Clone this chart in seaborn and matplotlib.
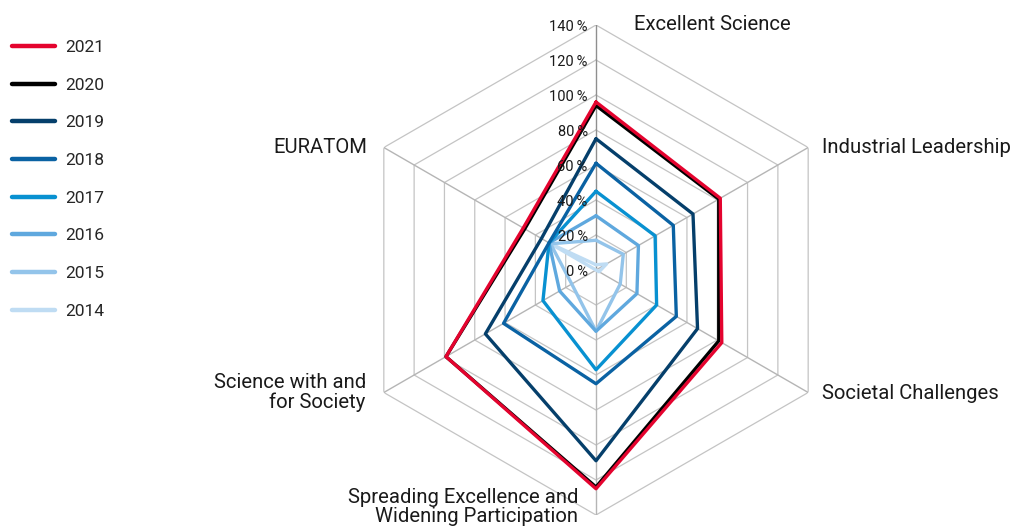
import numpy as np
import pandas as pd
import matplotlib
matplotlib.use('Agg')
import matplotlib.pyplot as plt
from matplotlib.lines import Line2D
import seaborn as sns

sns.set_style('white')
plt.rcParams['font.family'] = ['Roboto', 'DejaVu Sans']

# データ
categories = ['Excellent Science', 'Industrial Leadership', 'Societal Challenges',
              'Spreading Excellence and\nWidening Participation',
              'Science with and\nfor Society', 'EURATOM']
years = ['2014', '2015', '2016', '2017', '2018', '2019', '2020', '2021']
v2014 = [3, 7, 2, 0, 0, 30]
v2015 = [17, 18, 16, 35, 16, 30]
v2016 = [31, 28, 27, 35, 24, 31]
v2017 = [45, 39, 40, 57, 35, 31]
v2018 = [61, 51, 53, 65, 61, 31]
v2019 = [75, 64, 67, 109, 73, 36]
v2020 = [94, 81, 81, 124, 99, 47]
v2021 = [96, 82, 83, 125, 99, 48]
colors = ['#bfdcf3', '#93c4ea', '#5fa8de', '#0891d1', '#0a62a3', '#053f6b', '#000000', '#e4032e']
r_ticks = [0, 20, 40, 60, 80, 100, 120, 140]

series = [v2014, v2015, v2016, v2017, v2018, v2019, v2020, v2021]
angles = np.linspace(0, 2 * np.pi, len(categories), endpoint=False)

rows = []
for y, vals in zip(years, series):
    for a, v in zip(list(angles) + [2 * np.pi], vals + vals[:1]):
        rows.append({'year': y, 'angle': a, 'value': v})
df = pd.DataFrame(rows)

fig = plt.figure(figsize=(10.15, 5.27), dpi=100)
ax = fig.add_axes([351 / 1015, 12 / 527, 490 / 1015, 490 / 527], projection='polar')
ax.set_theta_offset(np.pi / 2)
ax.set_theta_direction(-1)
ax.set_ylim(0, 140)

# 六角形のグリッド
ax.yaxis.grid(False)
ax.xaxis.grid(False)
ax.spines['polar'].set_visible(False)
for lv in r_ticks[1:]:
    ax.plot(list(angles) + [2 * np.pi], [lv] * 7, color='#c4c4c4', lw=0.9, zorder=1)
for i, a in enumerate(angles):
    ax.plot([a, a], [0, 140], color='#8f8f8f' if i == 0 else '#b5b5b5', lw=1.0, zorder=1)

sns.lineplot(data=df, x='angle', y='value', hue='year', hue_order=years,
             palette=colors, sort=False, estimator=None, lw=2.4, legend=False, ax=ax, zorder=3)

ax.set_xticks([])
ax.set_yticks([])
ax.set_xlabel('')
ax.set_ylabel('')

# 軸ラベル
offsets = [(38, 0, 'left'), (14, 0, 'left'), (14, -1, 'left'),
           (-18, 8, 'right'), (-18, 0, 'right'), (-17, 0, 'right')]
for a, name, (dx, dy, ha) in zip(angles, categories, offsets):
    ax.annotate(name, xy=(a, 140), xytext=(dx * 0.72, dy * 0.72), textcoords='offset points',
                ha=ha, va='center', fontsize=14.6, color='#1a1a1a', linespacing=0.98,
                annotation_clip=False)

for t in r_ticks:
    ax.annotate(f'{t}\u2009%', xy=(0, t), xytext=(-6, -1.2), textcoords='offset points',
                ha='right', va='center', fontsize=10.5, color='#1a1a1a', annotation_clip=False)

# 凡例
handles = [Line2D([0], [0], color=c, lw=3.2, solid_capstyle='round') for c in colors[::-1]]
fig.legend(handles, years[::-1], loc='upper left', bbox_to_anchor=(12 / 1015, 1 - 40 / 527),
           frameon=False, fontsize=12.5, handlelength=2.5, handletextpad=0.55,
           labelspacing=1.295, borderpad=0, borderaxespad=0)

fig.savefig('out.png', dpi=100)
